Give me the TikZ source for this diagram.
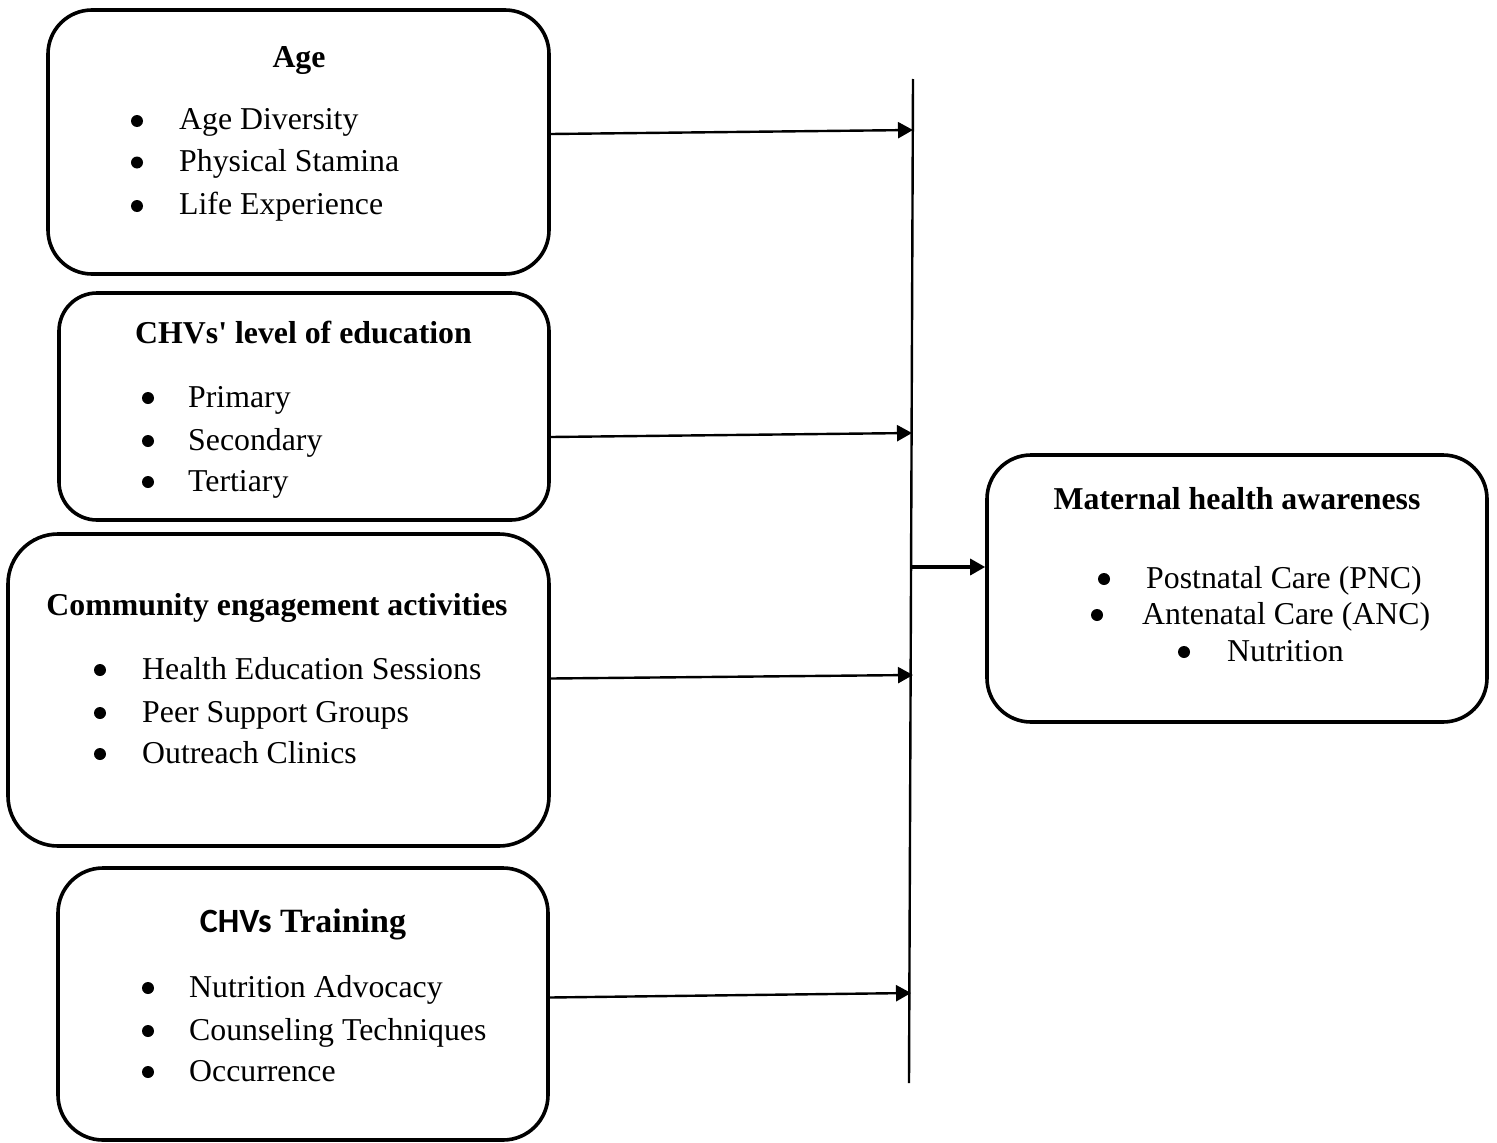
\documentclass[tikz,border=0pt]{standalone}
\usepackage{fontspec}
\setmainfont{Liberation Serif}
\newfontfamily\calfont{Carlito}
\usetikzlibrary{arrows.meta}
\begin{document}
\begin{tikzpicture}[x=1pt,y=-1pt,
  box/.style={draw,line width=3.6pt,rounded corners=#1,inner sep=0pt},
  title/.style={anchor=base,inner sep=0pt,font=\fontsize{31.8}{38}\selectfont\bfseries},
  item/.style={anchor=base west,inner sep=0pt,font=\fontsize{31.8}{38}\selectfont},
  arr/.style={line width=2.4pt,-{Triangle[length=15pt,width=16pt]}},
  bul/.style={fill=black}
]
\useasboundingbox (0,0) rectangle (1497,1143);

% boxes
\node[box=44pt,minimum width=501pt,minimum height=264pt] (b1) at (298.5,142) {};
\node[box=38pt,minimum width=490pt,minimum height=227pt] (b2) at (304,406.5) {};
\node[box=50pt,minimum width=541pt,minimum height=312pt] (b3) at (278.5,690) {};
\node[box=45pt,minimum width=490pt,minimum height=272pt] (b4) at (303,1004) {};
\node[box=44pt,minimum width=500pt,minimum height=267pt] (b5) at (1237,588.5) {};

% box 1
\node[title] (t1) at (299,67) {Age};
\fill[bul] (137,121) circle (6);
\fill[bul] (137,162.5) circle (6);
\fill[bul] (137,206) circle (6);
\node[item] (i11) at (179,129.5) {Age Diversity};
\node[item] (i12) at (179,171) {Physical Stamina};
\node[item] (i13) at (179,214.5) {Life Experience};

% box 2
\node[title] (t2) at (303.5,343) {CHVs\textquotesingle{} level of education};
\fill[bul] (148,398) circle (6);
\fill[bul] (148,441) circle (6);
\fill[bul] (148,482) circle (6);
\node[item] (i21) at (188,407) {Primary};
\node[item] (i22) at (188,450) {Secondary};
\node[item] (i23) at (188,491) {Tertiary};

% box 3
\node[title] (t3) at (277,615) {Community engagement activities};
\fill[bul] (100,670) circle (6);
\fill[bul] (100,713) circle (6);
\fill[bul] (100,754) circle (6);
\node[item] (i31) at (142,679) {Health Education Sessions};
\node[item] (i32) at (142,722) {Peer Support Groups};
\node[item] (i33) at (142,763) {Outreach Clinics};

% box 4
\node[title,font=\fontsize{34}{40}\selectfont\bfseries] (t4) at (303,932) {{\calfont CHVs} Training};
\fill[bul] (148,988) circle (6);
\fill[bul] (148,1031) circle (6);
\fill[bul] (148,1072) circle (6);
\node[item] (i41) at (189,997) {Nutrition Advocacy};
\node[item] (i42) at (189,1040) {Counseling Techniques};
\node[item] (i43) at (189,1081) {Occurrence};

% box 5
\node[title] (t5) at (1237,509) {Maternal health awareness};
\fill[bul] (1104,579) circle (6);
\fill[bul] (1097,615) circle (6);
\fill[bul] (1184,652) circle (6);
\node[item] (i51) at (1146,588) {Postnatal Care (PNC)};
\node[item] (i52) at (1142,624) {Antenatal Care (ANC)};
\node[item] (i53) at (1227,661) {Nutrition};

% vertical line
\coordinate (vtop) at (913,79);
\coordinate (vbot) at (909,1083);
\draw[line width=2.4pt] (vtop) -- (vbot);
\coordinate (e1) at (913,130);
\coordinate (e2) at (912,433);
\coordinate (e3) at (913,675);
\coordinate (e4) at (911,993);
\coordinate (e5) at (912,567);

\draw[arr] (b1.east |- 0,134) -- (e1);
\draw[arr] (b2.east |- 0,437) -- (e2);
\draw[arr] (b3.east |- 0,678.5) -- (e3);
\draw[arr] (b4.east |- 0,997.5) -- (e4);
\draw[arr,line width=3.3pt] (e5) -- (b5.west |- e5);
\end{tikzpicture}
\end{document}
